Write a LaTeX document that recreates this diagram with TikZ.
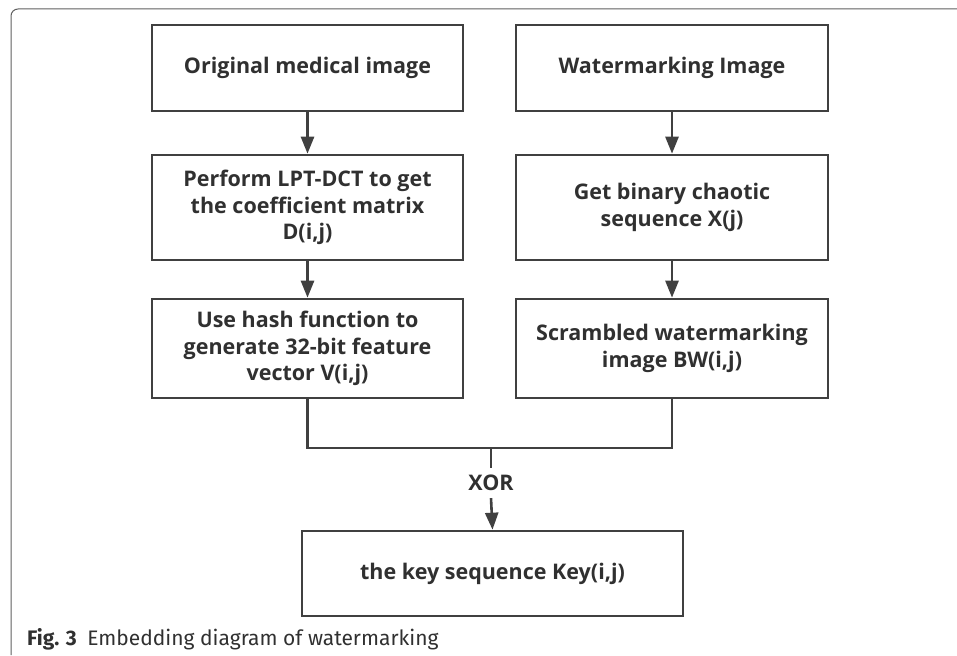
\documentclass[tikz,border=0pt]{standalone}
\usepackage{fontspec}
\setmainfont{Open Sans}
\newfontfamily\capfont{Fira Sans}
\usetikzlibrary{arrows.meta}
\definecolor{ln}{HTML}{404040}
\definecolor{tx}{HTML}{303030}
\definecolor{fr}{HTML}{606060}
\begin{document}
\begin{tikzpicture}[x=1pt,y=-1pt,
  box/.style={draw=ln,line width=2.6pt,rectangle,align=center,text=tx,
    font=\fontsize{21.5}{26.5}\selectfont\bfseries,inner sep=0pt},
  conn/.style={draw=ln,line width=2.6pt},
  arr/.style={conn,-{Triangle[width=13pt,length=17pt]}}]
\useasboundingbox (0,0) rectangle (957,655);
\draw[fr,line width=1pt,rounded corners=7pt] (11,655) -- (11,9) -- (957,9);
\node[box,minimum width=311pt,minimum height=86pt] (a1) at (307.5,68) {Original medical image};
\node[box,minimum width=311pt,minimum height=105pt] (a2) at (307.5,207.5) {Perform LPT-DCT to get\\the coefficient matrix\\D(i,j)};
\node[box,minimum width=311pt,minimum height=99pt] (a3) at (307.5,348.5) {Use hash function to\\generate 32-bit feature\\vector V(i,j)};
\node[box,minimum width=312pt,minimum height=86pt] (b1) at (672,68) {Watermarking Image};
\node[box,minimum width=312pt,minimum height=105pt] (b2) at (672,207.5) {Get binary chaotic\\sequence X(j)};
\node[box,minimum width=312pt,minimum height=99pt] (b3) at (672,348.5) {Scrambled watermarking\\image BW(i,j)};
\node[box,minimum width=381pt,minimum height=85pt] (k) at (492.5,573.5) {the key sequence Key(i,j)};
\coordinate (jn) at (491,448);
\node[draw=none,text=tx,font=\fontsize{21.5}{24}\selectfont\bfseries,minimum height=30pt,inner sep=0pt] (xor) at (491,483) {XOR};
\draw[arr] (a1) -- (a2);
\draw[arr] (a2) -- (a3);
\draw[arr] (b1) -- (b2);
\draw[arr] (b2) -- (b3);
\draw[conn] (a3.south) |- (jn) -| (b3.south);
\draw[conn] (jn) -- (xor.north);
\draw[arr] (xor.south) -- (k.north);
\node[anchor=base west,inner sep=0pt,text=tx,font=\capfont\fontsize{21}{24}\selectfont] (cap) at (27,645) {\textbf{Fig. 3}\hspace{0.5em}Embedding diagram of watermarking};
\end{tikzpicture}
\end{document}
